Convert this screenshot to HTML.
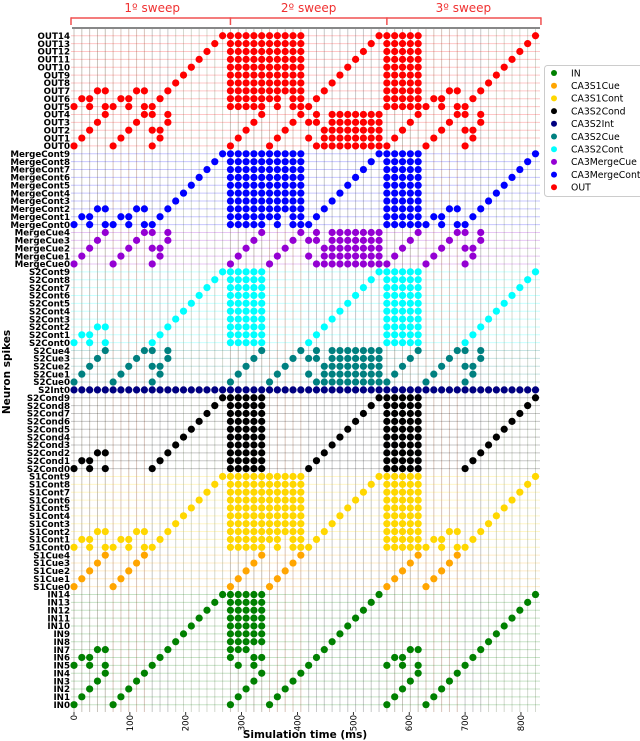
<!DOCTYPE html>
<html><head><meta charset="utf-8"><style>
html,body{margin:0;padding:0;background:#fff;}
svg{display:block;font-family:"DejaVu Sans","Liberation Sans",sans-serif;}
</style></head><body>
<svg id="chart" width="640" height="741" viewBox="0 0 640 741"></svg>
<script>
// ---- data (spike times in ms) ----
const xTicks = [0,100,200,300,400,500,600,700,800];
const sweepLabels = ["1º sweep","2º sweep","3º sweep"];
const sweepBounds = [0,280,560,834];
const groupNames = ["IN","CA3S1Cue","CA3S1Cont","CA3S2Cond","CA3S2Int","CA3S2Cue","CA3S2Cont","CA3MergeCue","CA3MergeCont","OUT"];
const blockA = [280,294,308,322,336];
const blockB = [560,574,588,602,616];
const blockW = [280,294,308,322,336,350,364,378,392,406];
const midBlock = [448,462,476,490,504,518,532,546];

const inSpikes = [
 [0,70,280,350,560,630],
 [14,84,294,364,574,644],
 [28,98,308,378,588,658],
 [42,112,322,392,602,672],
 [56,126,336,406,616,686],
 [0,28,56,140,294,322,420,560,588,616,700],
 [14,28,154,280,322,336,434,574,588,714],
 [42,56,168,280,294,308,448,602,616,728],
 [182,...blockA,462,742],
 [196,...blockA,476,756],
 [210,...blockA,490,770],
 [224,...blockA,504,784],
 [238,...blockA,518,798],
 [252,...blockA,532,812],
 [266,...blockA,546,826]
];
const cueSpikes = [
 [0,70,280,350,560,630],
 [14,84,294,364,574,644],
 [28,98,308,378,588,658],
 [42,112,322,392,602,672],
 [56,126,336,406,616,686]
];
const contSpikes = [
 [0,28,56,70,98,126,140,280,294,308,322,336,364,392,406,420,560,574,588,602,616,630,658,686,700],
 [14,28,84,98,154,280,294,308,322,336,350,364,392,406,434,560,574,588,602,616,644,658,714],
 [42,56,112,126,168,280,294,308,322,336,350,364,378,392,406,448,560,574,588,602,616,672,686,728],
 [182,...blockW,462,...blockB,742],
 [196,...blockW,476,...blockB,756],
 [210,...blockW,490,...blockB,770],
 [224,...blockW,504,...blockB,784],
 [238,...blockW,518,...blockB,798],
 [252,...blockW,532,...blockB,812],
 [266,...blockW,546,...blockB,826]
];
const s2Spikes = [
 [0,28,56,140,...blockA,420,...blockB,700],
 [14,28,154,...blockA,434,...blockB,714],
 [42,56,168,...blockA,448,...blockB,728],
 [182,...blockA,462,...blockB,742],
 [196,...blockA,476,...blockB,756],
 [210,...blockA,490,...blockB,770],
 [224,...blockA,504,...blockB,784],
 [238,...blockA,518,...blockB,798],
 [252,...blockA,532,...blockB,812],
 [266,...blockA,546,...blockB,826]
];
const intSpikes = [
 [0,14,28,42,56,70,84,98,112,126,140,154,168,182,196,210,224,238,252,266,280,294,308,322,336,350,364,378,392,406,420,434,448,462,476,490,504,518,532,546,560,574,588,602,616,630,644,658,672,686,700,714,728,742,756,770,784,798,812,826]
];
const cue2Spikes = [
 [0,70,140,280,350,434,...midBlock,560,630,700],
 [14,84,154,294,364,420,...midBlock,574,644,714],
 [28,98,140,154,308,378,...midBlock,588,658,700,714],
 [42,112,168,322,392,420,434,462,476,490,504,518,532,546,602,672,728],
 [56,126,140,168,336,406,434,462,476,490,504,518,532,546,616,686,700,728]
];
const outLowSpikes = [
 [0,70,140,280,350,434,...midBlock,560,630,700],
 [14,84,154,294,364,420,...midBlock,574,644,714],
 [28,98,140,154,308,378,...midBlock,588,658,700,714],
 [42,112,168,322,392,420,434,462,476,490,504,518,532,546,602,672,728],
 [56,126,140,168,336,406,434,462,476,490,504,518,532,546,616,686,700,728]
];

// ---- layout ----
const X0 = 74, XS = 0.5587;
const xPos = t => X0 + t * XS;
const YB = 704.7, YSTEP = 7.87;
const yPos = r => YB - r * YSTEP;
const PL = 71, PR = 540, PT = 29, PB = 712;

const groups = [
 {name:"IN", prefix:"IN", color:"#008000", rows:inSpikes, vo:0.06},
 {name:"CA3S1Cue", prefix:"S1Cue", color:"#FFA500", rows:cueSpikes, vo:0.08},
 {name:"CA3S1Cont", prefix:"S1Cont", color:"#FFD700", rows:contSpikes, vo:0.08},
 {name:"CA3S2Cond", prefix:"S2Cond", color:"#000000", rows:s2Spikes, vo:0.012},
 {name:"CA3S2Int", prefix:"S2Int", color:"#000080", rows:intSpikes, vo:0.015},
 {name:"CA3S2Cue", prefix:"S2Cue", color:"#008080", rows:cue2Spikes, vo:0.04},
 {name:"CA3S2Cont", prefix:"S2Cont", color:"#00FFFF", rows:s2Spikes, vo:0.07},
 {name:"CA3MergeCue", prefix:"MergeCue", color:"#9400D3", rows:cue2Spikes, vo:0.05},
 {name:"CA3MergeCont", prefix:"MergeCont", color:"#0000FF", rows:contSpikes, vo:0.04},
 {name:"OUT", prefix:"OUT", color:"#FF0000", rows:outLowSpikes.concat(contSpikes), vo:0.06}
];

const NS = "http://www.w3.org/2000/svg";
const svg = document.getElementById("chart");
function mk(tag, attrs, parent){
  const e = document.createElementNS(NS, tag);
  for (const k in attrs) e.setAttribute(k, attrs[k]);
  (parent||svg).appendChild(e);
  return e;
}

// vertical lines
const vG = mk("g", {});


groups.forEach(g => {
  const seen = new Set();
  g.rows.forEach(r => r.forEach(t => seen.add(t)));
  seen.forEach(t => {
    const l = mk("line", {x1:xPos(t), x2:xPos(t), y1:PT, y2:PB, stroke:g.color, "stroke-width":1, "stroke-opacity":g.vo}, vG);
    
    
  });
});

// horizontal lines + dots + labels
let r = 0;
const hG = mk("g", {});


groups.forEach(g => {
  g.rows.forEach((spikes, i) => {
    const y = yPos(r);
    const hl = mk("line", {x1:PL, x2:PR, y1:y, y2:y, stroke:g.color, "stroke-width":1, "stroke-opacity":0.22}, hG);
    
    
    const lab = mk("text", {x:70, y:y+3.2, "text-anchor":"end", "font-size":"8.7", "font-weight":"bold", fill:"#000"});
    lab.textContent = g.prefix + i;
    
    
    spikes.forEach(t => {
      const c = mk("circle", {cx:xPos(t), cy:y, r:3.6, fill:g.color}, hG);
      
      
    });
    r++;
  });
});

// top gray line
const tl = mk("line", {x1:72, x2:540, y1:28, y2:28, stroke:"#888", "stroke-width":2});



// sweep brackets
const bl = mk("line", {x1:xPos(sweepBounds[0])-3, x2:xPos(sweepBounds[3])+1, y1:18, y2:18, stroke:"#f05050", "stroke-width":1.5});


sweepBounds.forEach((b, i) => {
  const xx = i===0 ? xPos(b)-3 : (i===3 ? xPos(b)+1 : xPos(b));
  const tk = mk("line", {x1:xx, x2:xx, y1:17.3, y2:25, stroke:"#f05050", "stroke-width":1.5});
  
  
});
sweepLabels.forEach((s, i) => {
  const cx = (xPos(sweepBounds[i]) + xPos(sweepBounds[i+1])) / 2;
  const t = mk("text", {x:cx, y:12, "text-anchor":"middle", "font-size":"12", fill:"#f03030"});
  t.textContent = s;
  
  
});

// x ticks
xTicks.forEach(v => {
  const x = xPos(v);
  const tk = mk("line", {x1:x, x2:x, y1:PB, y2:PB+3, stroke:"#000", "stroke-width":0.8});
  
  
  const t = mk("text", {x:0, y:0, "text-anchor":"end", "font-size":"8.5", transform:`translate(${x+3},${PB+3}) rotate(-90)`});
  t.textContent = v;
  
  
});
const xl = mk("text", {x:305, y:738, "text-anchor":"middle", "font-size":"10.5", "font-weight":"bold"});
xl.textContent = "Simulation time (ms)";


const yl = mk("text", {x:0, y:0, "text-anchor":"middle", "font-size":"10.5", "font-weight":"bold", transform:"translate(10,372) rotate(-90)"});
yl.textContent = "Neuron spikes";



// legend
const lg = mk("g", {});


const box = mk("rect", {x:544.5, y:65.5, width:100, height:131, rx:3, fill:"#fff", stroke:"#ccc", "stroke-width":1}, lg);


groups.forEach((g, i) => {
  const y = 73 + i * 12.7;
  const c = mk("circle", {cx:554, cy:y, r:3, fill:g.color}, lg);
  
  
  const t = mk("text", {x:571, y:y+3.3, "font-size":"9.3", fill:"#000"}, lg);
  t.textContent = groupNames[i];
  
  
});
</script>
</body></html>
